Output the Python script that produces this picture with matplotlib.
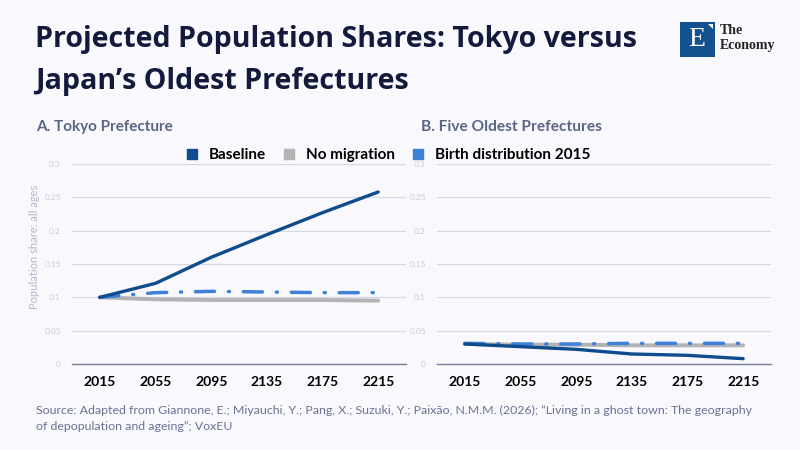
import matplotlib
matplotlib.use("Agg")
import matplotlib.pyplot as plt
import matplotlib.patches as patches
from matplotlib.lines import Line2D

years = [2015, 2055, 2095, 2135, 2175, 2215]

tokyo_baseline = [0.100, 0.121, 0.160, 0.194, 0.227, 0.258]
tokyo_no_migration = [0.100, 0.097, 0.096, 0.096, 0.096, 0.095]
tokyo_birth_2015 = [0.100, 0.107, 0.109, 0.108, 0.107, 0.107]

oldest_baseline = [0.030, 0.026, 0.022, 0.015, 0.013, 0.008]
oldest_no_migration = [0.030, 0.029, 0.029, 0.028, 0.028, 0.028]
oldest_birth_2015 = [0.031, 0.030, 0.030, 0.031, 0.031, 0.031]

y_ticks = [0, 0.05, 0.1, 0.15, 0.2, 0.25, 0.3]
y_tick_labels = ["0", "0.05", "0.1", "0.15", "0.2", "0.25", "0.3"]

BG = "#f8f8fd"
NAVY = "#141a3c"
C_BASE = "#0f4c8c"
C_NOMIG = "#b3b3b3"
C_BIRTH = "#3f80d8"

plt.rcParams['font.family'] = ['Lato', 'DejaVu Sans']

fig = plt.figure(figsize=(8, 4.5), dpi=100)
fig.patch.set_facecolor(BG)


def draw_panel(ax, base, nomig, birth, show_ylabel):
    xs = list(range(len(years)))
    ax.set_facecolor(BG)
    ax.plot(xs, nomig, color=C_NOMIG, lw=2.8, solid_capstyle='round', zorder=2)
    ax.plot(xs, birth, color=C_BIRTH, lw=2.5, dashes=(5.5, 4, 0.3, 4),
            dash_capstyle='round', zorder=3)
    ax.plot(xs, base, color=C_BASE, lw=2.4, solid_capstyle='round', zorder=4)
    ax.set_xlim(-0.5, len(years) - 0.5)
    ax.set_ylim(0, 0.3)
    ax.set_xticks(xs)
    ax.set_xticklabels([str(y) for y in years], fontsize=10, fontweight='bold', color='black')
    ax.set_yticks(y_ticks)
    ax.set_yticklabels(y_tick_labels, fontsize=6, color='#c9cedb')
    ax.tick_params(axis='both', length=0)
    ax.tick_params(axis='x', pad=9)
    ax.tick_params(axis='y', pad=8)
    ax.grid(axis='y', color='#d3d9e6', lw=0.9)
    ax.set_axisbelow(True)
    for s in ['top', 'right', 'left']:
        ax.spines[s].set_visible(False)
    ax.spines['bottom'].set_color('#7a809a')
    ax.spines['bottom'].set_linewidth(1.0)
    if show_ylabel:
        ax.set_ylabel("Population share: all ages", fontsize=8, color='#b4bacb')
        ax.yaxis.set_label_coords(-0.096, 0.585)


ax1 = fig.add_axes([72 / 800, 1 - 364 / 450, 334 / 800, 200 / 450])
ax2 = fig.add_axes([437 / 800, 1 - 364 / 450, 334 / 800, 200 / 450])
draw_panel(ax1, tokyo_baseline, tokyo_no_migration, tokyo_birth_2015, True)
draw_panel(ax2, oldest_baseline, oldest_no_migration, oldest_birth_2015, False)

# Title
title_font = ['Open Sans', 'DejaVu Sans']
fig.text(35 / 800, 1 - 47 / 450, "Projected Population Shares: Tokyo versus",
         fontsize=20.6, fontweight='bold', color=NAVY, va='baseline', family=title_font)
fig.text(35 / 800, 1 - 89 / 450, "Japan\u2019s Oldest Prefectures",
         fontsize=20.6, fontweight='bold', color=NAVY, va='baseline', family=title_font)

# Panel titles
fig.text(36 / 800, 1 - 131 / 450, "A. Tokyo Prefecture", fontsize=11,
         fontweight='bold', color='#5b6584', va='baseline')
fig.text(421 / 800, 1 - 131 / 450, "B. Five Oldest Prefectures", fontsize=11.2,
         fontweight='bold', color='#5b6584', va='baseline')

# Legend
handles = [
    Line2D([], [], ls='none', marker='s', ms=7, color=C_BASE),
    Line2D([], [], ls='none', marker='s', ms=7, color=C_NOMIG),
    Line2D([], [], ls='none', marker='s', ms=7, color=C_BIRTH),
]
labels = ["Baseline", "No migration", "Birth distribution 2015"]
fig.legend(handles, labels, loc='center', bbox_to_anchor=(388 / 800, 1 - 155 / 450),
           ncol=3, frameon=False, handlelength=0.8, handletextpad=0.7,
           columnspacing=1.1, prop={'family': ['Lato', 'DejaVu Sans'],
                                    'weight': 'bold', 'size': 11})

# Source
fig.text(36 / 800, 1 - 414 / 450,
         "Source: Adapted from Giannone, E.; Miyauchi, Y.; Pang, X.; Suzuki, Y.; Paix\u00e3o, N.M.M. (2026); \u201cLiving in a ghost town: The geography",
         fontsize=8.9, color='#6b7391', va='baseline')
fig.text(36 / 800, 1 - 430 / 450, "of depopulation and ageing\u201d; VoxEU",
         fontsize=8.9, color='#6b7391', va='baseline')

# Logo
fig.patches.append(patches.Rectangle((680 / 800, 1 - 57 / 450), 35 / 800, 35 / 450,
                                     transform=fig.transFigure, facecolor='#13508e',
                                     edgecolor='none'))
fig.patches.append(patches.Polygon([(708 / 800, 1 - 24 / 450), (713 / 800, 1 - 24 / 450),
                                    (713 / 800, 1 - 29 / 450)],
                                   closed=True, transform=fig.transFigure,
                                   facecolor='white', edgecolor='none'))
fig.text(697 / 800, 1 - 40 / 450, "E", fontsize=20, color='white', ha='center', va='center',
         family=['Liberation Serif', 'DejaVu Serif'])
fig.text(720 / 800, 1 - 31 / 450, "The", fontsize=10, color='#222222', va='center',
         fontweight='bold', family=['Liberation Serif', 'DejaVu Serif'])
fig.text(720 / 800, 1 - 45 / 450, "Economy", fontsize=10, color='#222222', va='center',
         fontweight='bold', family=['Liberation Serif', 'DejaVu Serif'])

fig.savefig("out.png", dpi=100, facecolor=BG)
